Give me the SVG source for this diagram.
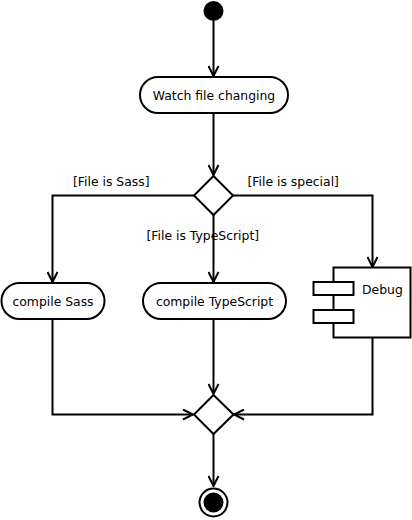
<svg xmlns="http://www.w3.org/2000/svg" width="412" height="520" viewBox="0 0 412 520">
<defs>
<style>
.n{fill:#fff;stroke:#000;stroke-width:2}
.c{fill:none;stroke:#000;stroke-width:2}
text{font-family:"DejaVu Sans","Liberation Sans",sans-serif;font-size:12.4px;fill:#000}
.m{text-anchor:middle}
</style>
<marker id="arr" viewBox="0 0 12 12" refX="11" refY="6" markerWidth="12" markerHeight="12" markerUnits="userSpaceOnUse" orient="auto">
<path d="M1,1 L11,6 L1,11" fill="none" stroke="#000" stroke-width="2"/>
</marker>
</defs>
<rect width="412" height="520" fill="#fff"/>
<g id="connectors">
<path class="c" d="M213.5,21 V76" marker-end="url(#arr)"/>
<path class="c" d="M213.5,113 V175" marker-end="url(#arr)"/>
<path class="c" d="M194,195.5 H52.5 V282" marker-end="url(#arr)"/>
<path class="c" d="M213.5,215 V282" marker-end="url(#arr)"/>
<path class="c" d="M233,195.5 H372.5 V267" marker-end="url(#arr)"/>
<path class="c" d="M52.5,319 V414.5 H193" marker-end="url(#arr)"/>
<path class="c" d="M213.5,319 V394" marker-end="url(#arr)"/>
<path class="c" d="M372.5,337.5 V414.5 H234" marker-end="url(#arr)"/>
<path class="c" d="M213.5,434 V486" marker-end="url(#arr)"/>
<text x="73" y="186">[File is Sass]</text>
<text x="247.5" y="186">[File is special]</text>
<text x="146.5" y="240">[File is TypeScript]</text>
</g>
<g id="start"><circle cx="213.5" cy="11" r="10" fill="#000"/></g>
<g id="watch"><rect class="n" x="140" y="77" width="148" height="36" rx="18"/><text class="m" x="214" y="99.5">Watch file changing</text></g>
<g id="decision"><path class="n" d="M213.5,176 L233,195.5 L213.5,215 L194,195.5 Z"/></g>
<g id="sass"><rect class="n" x="1.5" y="283" width="103" height="36" rx="18"/><text class="m" x="53" y="305.5">compile Sass</text></g>
<g id="ts"><rect class="n" x="143" y="283" width="143" height="36" rx="18"/><text class="m" x="214.5" y="305.5">compile TypeScript</text></g>
<g id="debug"><rect class="n" x="333.5" y="267.5" width="77" height="70"/><rect class="n" x="313.5" y="282" width="40" height="13"/><rect class="n" x="313.5" y="310" width="40" height="13"/><text x="362" y="294">Debug</text></g>
<g id="merge"><path class="n" d="M213.5,395 L233.5,414.5 L213.5,434 L194,414.5 Z"/></g>
<g id="end"><circle cx="213.5" cy="502.5" r="14" fill="#fff" stroke="#000" stroke-width="2"/><circle cx="213.5" cy="502.5" r="10" fill="#000"/></g>
</svg>
